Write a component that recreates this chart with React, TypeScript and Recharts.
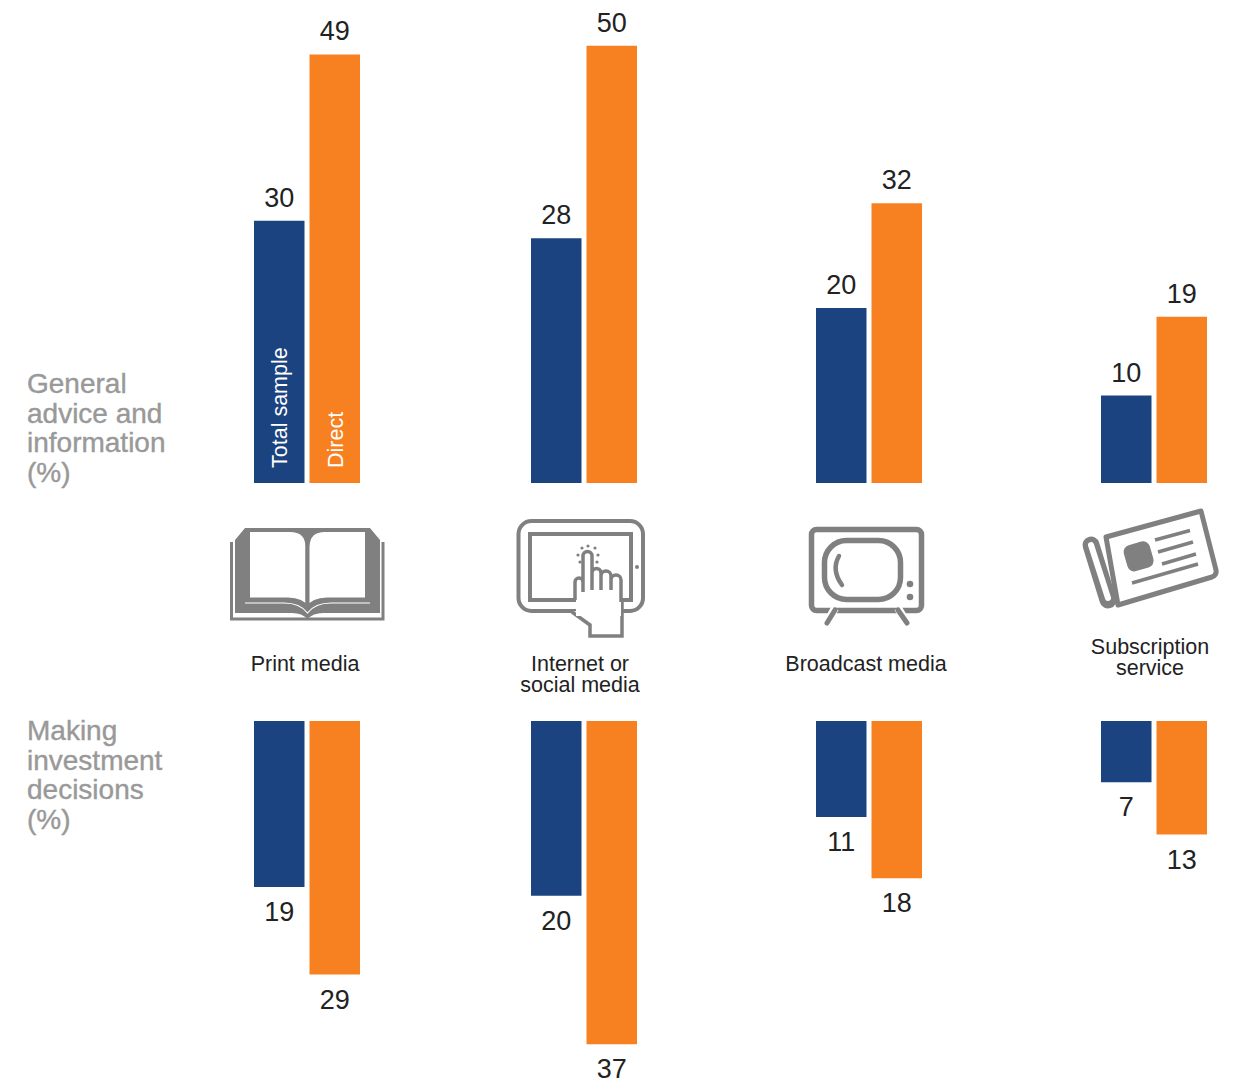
import { BarChart, Bar, XAxis, YAxis, LabelList } from 'recharts';

const categories = ['Print media', 'Internet or social media', 'Broadcast media', 'Subscription service'];
const adviceTotal = [30, 28, 20, 10];
const adviceDirect = [49, 50, 32, 19];
const decisionTotal = [19, 20, 11, 7];
const decisionDirect = [29, 37, 18, 13];
const groupLeft = [254, 530.5, 816, 1101];

const NAVY = '#1B4380';
const ORANGE = '#F78121';
const GRAY = '#808080';
const SANS = '"Liberation Sans", Arial, sans-serif';

function GroupBars({ index, total, direct, top, height, max, reversed }: { index: number; total: number; direct: number; top: number; height: number; max: number; reversed?: boolean }) {
  const data = [{ name: categories[index], total, direct }];
  const label = { fontSize: 27, fill: '#222', fontFamily: SANS };
  const offset = reversed ? 15 : 14;
  return (
    <div style={{ position: 'absolute', left: groupLeft[index] - 4, top, width: 114, height }}>
      <BarChart width={114} height={height} data={data} margin={{ top: 0, right: 0, bottom: 0, left: 0 }} barSize={50.5} barGap={5} barCategoryGap={0} style={{ overflow: 'visible' }}>
        <XAxis dataKey="name" hide />
        <YAxis hide domain={[0, max]} reversed={reversed} />
        <Bar dataKey="total" fill={NAVY} isAnimationActive={false}>
          <LabelList dataKey="total" position="top" offset={offset} style={label} />
        </Bar>
        <Bar dataKey="direct" fill={ORANGE} isAnimationActive={false}>
          <LabelList dataKey="direct" position="top" offset={offset} style={label} />
        </Bar>
      </BarChart>
    </div>
  );
}

function SideLabel({ lines, y }: { lines: string[]; y: number }) {
  return (
    <text x={27} y={y} fontSize={28} fill="#999" stroke="#999" strokeWidth={0.4} fontFamily={SANS}>
      {lines.map((l, i) => <tspan key={i} x={27} y={y + i * 29.5}>{l}</tspan>)}
    </text>
  );
}

function CatLabel({ lines, x, y }: { lines: string[]; x: number; y: number }) {
  return (
    <text textAnchor="middle" fontSize={21.5} fill="#222" fontFamily={SANS}>
      {lines.map((l, i) => <tspan key={i} x={x} y={y + i * 21}>{l}</tspan>)}
    </text>
  );
}

function Icons() {
  return (
    <g>
      {/* book */}
      <path d="M231.5 542V619H383V542" fill="none" stroke={GRAY} strokeWidth={3} />
      <path d="M245 528L235 540V613H292Q302 613 307.5 619Q313 613 323 613H380V540L370 528Z" fill={GRAY} />
      <path d="M248 530H290Q307.5 530 307.5 547V608Q302 600 288 599.5H248Z" fill="#fff" stroke={GRAY} strokeWidth={4} />
      <path d="M367 530H325Q307.5 530 307.5 547V608Q313 600 327 599.5H367Z" fill="#fff" stroke={GRAY} strokeWidth={4} />
      <path d="M245 603H284Q300 603 307.5 613Q315 603 331 603H370" fill="none" stroke="#fff" strokeWidth={1.2} />
      {/* tablet */}
      <rect x={518.5} y={521} width={124.5} height={90} rx={13} fill="#fff" stroke={GRAY} strokeWidth={4} />
      <rect x={530} y={534} width={101} height={66} fill="#fff" stroke={GRAY} strokeWidth={4} />
      <circle cx={637} cy={567} r={2} fill={GRAY} />
      <path d="M572 612L590 625V636H622V600" fill="#fff" stroke={GRAY} strokeWidth={3.5} />
      <rect x={576} y={596} width={45} height={20} fill="#fff" />
      <path d="M575 600V582A4 4 0 0 1 583 582V592V556A4.5 4.5 0 0 1 592 556V590V573A4.5 4.5 0 0 1 601 573V590V576A4.5 4.5 0 0 1 611 576V590V580A4.5 4.5 0 0 1 621 580V602" fill="#fff" stroke={GRAY} strokeWidth={3.5} />
      {[[588, 546], [582, 548], [595, 548], [578, 555], [598, 555], [580, 562], [597, 562]].map(([cx, cy], i) => (
        <circle key={i} cx={cx} cy={cy} r={1.6} fill={GRAY} />
      ))}
      {/* tv */}
      <rect x={811.5} y={529.5} width={110} height={81} rx={5} fill="#fff" stroke={GRAY} strokeWidth={5.5} />
      <rect x={824.5} y={540.5} width={76} height={59} rx={22} fill="#fff" stroke={GRAY} strokeWidth={5.5} />
      <path d="M839 556Q831 570 842 585" fill="none" stroke={GRAY} strokeWidth={4.5} strokeLinecap="round" />
      <circle cx={910} cy={584} r={3.3} fill={GRAY} />
      <circle cx={910} cy={597} r={3.3} fill={GRAY} />
      <path d="M835 608L827 623M898 608L907 623" stroke="#fff" strokeWidth={8} />
      <path d="M835 610L827 623M898 610L907 623" stroke={GRAY} strokeWidth={5} strokeLinecap="round" />
      {/* newspaper */}
      <path d="M1106 537L1201 511L1216 570Q1217 575 1212 577L1118 605Z" fill="#fff" stroke={GRAY} strokeWidth={5} strokeLinejoin="round" />
      <path d="M1091 545L1108 600" stroke={GRAY} strokeWidth={17} strokeLinecap="round" />
      <path d="M1091 545L1108 598" stroke="#fff" strokeWidth={6} strokeLinecap="round" />
      <rect x={1125} y={543} width={27} height={27} rx={7} fill={GRAY} transform="rotate(-16 1138 556)" />
      <path d="M1155 540L1190 530.5M1158 552L1193 542M1162 564L1196 554M1132 583L1198 564" stroke={GRAY} strokeWidth={3.5} />
    </g>
  );
}

export default function App() {
  return (
    <div style={{ position: 'absolute', left: 0, top: 0, width: 1249, height: 1083, background: '#fff', overflow: 'hidden' }}>
      {categories.map((_, i) => (
        <GroupBars key={'a' + i} index={i} total={adviceTotal[i]} direct={adviceDirect[i]} top={2} height={481} max={55} />
      ))}
      {categories.map((_, i) => (
        <GroupBars key={'d' + i} index={i} total={decisionTotal[i]} direct={decisionDirect[i]} top={721} height={362} max={41.43} reversed />
      ))}
      <svg width={1249} height={1083} style={{ position: 'absolute', left: 0, top: 0, pointerEvents: 'none' }}>
        <text transform="translate(287 468) rotate(-90)" fontSize={21.5} fill="#fff" fontFamily={SANS}>Total sample</text>
        <text transform="translate(343 468) rotate(-90)" fontSize={21.5} fill="#fff" fontFamily={SANS}>Direct</text>
        <SideLabel lines={['General', 'advice and', 'information', '(%)']} y={393} />
        <SideLabel lines={['Making', 'investment', 'decisions', '(%)']} y={740} />
        <CatLabel lines={['Print media']} x={305} y={671} />
        <CatLabel lines={['Internet or', 'social media']} x={580} y={671} />
        <CatLabel lines={['Broadcast media']} x={866} y={671} />
        <CatLabel lines={['Subscription', 'service']} x={1150} y={654} />
        <Icons />
      </svg>
    </div>
  );
}
